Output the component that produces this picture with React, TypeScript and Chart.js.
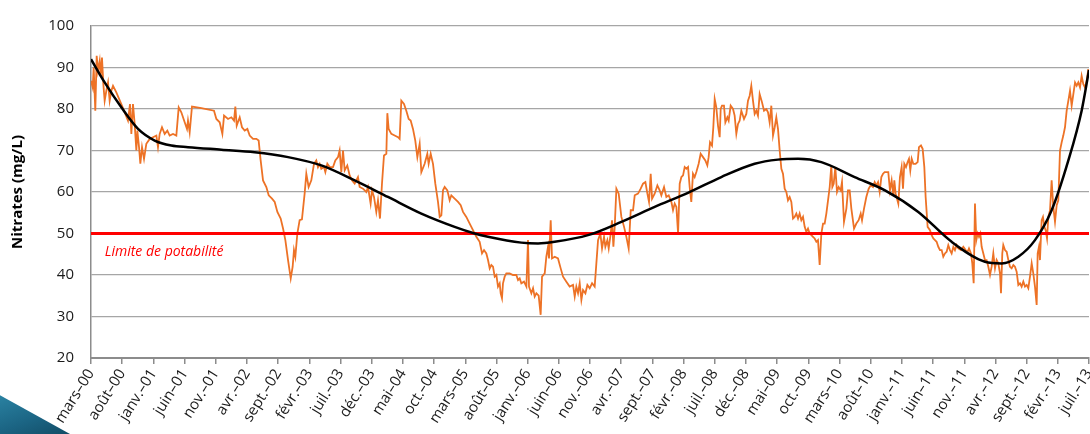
import React, { useEffect, useRef } from "react";
import { Chart, registerables } from "chart.js";

Chart.register(...registerables);

// Months counted from "mars-00" (March 2000 = 0)
const tickLabels = [
  "mars–00", "août–00", "janv.–01", "juin–01", "nov.–01", "avr.–02", "sept.–02", "févr.–03",
  "juil.–03", "déc.–03", "mai–04", "oct.–04", "mars–05", "août–05", "janv.–06", "juin–06",
  "nov.–06", "avr.–07", "sept.–07", "févr.–08", "juil.–08", "déc.–08", "mai–09", "oct.–09",
  "mars–10", "août–10", "janv.–11", "juin–11", "nov.–11", "avr.–12", "sept.–12", "févr.–13",
  "juil.–13",
];

const nitrateMonths = [
  0, 0.27, 0.43, 0.69, 0.91, 1.12, 1.39, 1.55, 1.76, 1.98, 2.19, 2.46, 2.73, 2.99, 3.26, 3.53, 4.06, 4.86, 5.4, 5.93,
  6.25, 6.47, 6.73, 7.0, 7.27, 7.43, 7.7, 7.91, 8.18, 8.5, 8.87, 9.41, 9.94, 10.48, 10.74, 11.01, 11.38, 11.81, 12.24, 12.61,
  13.15, 13.68, 14.06, 14.48, 15.02, 15.39, 15.55, 15.82, 16.19, 17.69, 19.72, 20.1, 20.63, 21.06, 21.33, 21.97, 22.5, 22.93, 23.14, 23.36,
  23.84, 24.21, 24.64, 25.07, 25.44, 25.98, 26.51, 26.88, 27.2, 27.58, 28.11, 28.49, 29.02, 29.45, 29.88, 30.41, 30.79, 31.16, 31.59, 32.02,
  32.33, 32.54, 32.76, 33.08, 33.45, 33.82, 34.25, 34.52, 34.89, 35.32, 35.75, 36.12, 36.39, 36.66, 36.92, 37.35, 37.57, 37.89, 38.26, 38.8,
  39.17, 39.6, 39.86, 40.13, 40.4, 40.67, 41.09, 41.47, 41.84, 42.27, 42.8, 43.07, 43.61, 44.14, 44.41, 44.83, 45.05, 45.37, 45.74, 46.01,
  46.33, 46.65, 46.97, 47.35, 47.51, 47.72, 48.15, 48.68, 49.22, 49.48, 49.75, 50.18, 50.55, 50.93, 51.25, 51.62, 51.99, 52.32, 52.69, 52.96,
  53.49, 53.92, 54.13, 54.46, 54.83, 55.2, 55.63, 55.9, 56.17, 56.43, 56.7, 57.13, 57.5, 57.77, 58.3, 58.84, 59.27, 59.64, 60.17, 60.71,
  61.24, 61.78, 62.31, 62.69, 63.01, 63.38, 63.65, 63.92, 64.18, 64.45, 64.72, 64.99, 65.25, 65.52, 65.68, 65.89, 66.05, 66.32, 66.59, 67.12,
  67.66, 68.19, 68.46, 68.73, 68.99, 69.42, 69.8, 70.06, 70.22, 70.6, 70.87, 71.13, 71.4, 71.77, 72.09, 72.31, 72.74, 73.0, 73.27, 73.43,
  73.7, 73.91, 74.34, 74.87, 75.3, 75.68, 76.21, 76.74, 77.28, 77.55, 77.81, 78.08, 78.35, 78.62, 78.88, 79.26, 79.58, 79.95, 80.33, 80.75,
  81.02, 81.29, 81.66, 81.93, 82.25, 82.46, 82.78, 83.0, 83.32, 83.53, 83.75, 83.96, 84.23, 84.6, 85.03, 85.46, 85.83, 86.2, 86.53, 86.9,
  87.17, 87.7, 88.13, 88.5, 88.88, 89.2, 89.46, 89.73, 89.95, 90.37, 90.8, 91.17, 91.44, 91.87, 92.24, 92.62, 93.05, 93.31, 93.58, 93.85,
  94.12, 94.38, 94.65, 94.92, 95.18, 95.45, 95.72, 95.98, 96.24, 96.51, 96.78, 97.05, 97.42, 97.74, 98.12, 98.49, 98.81, 99.02, 99.24, 99.56,
  99.77, 99.99, 100.25, 100.52, 100.79, 100.95, 101.16, 101.48, 101.7, 102.02, 102.23, 102.55, 102.93, 103.19, 103.46, 103.73, 103.99, 104.26, 104.69, 105.06,
  105.33, 105.6, 105.86, 106.13, 106.4, 106.67, 106.93, 107.2, 107.58, 107.9, 108.27, 108.54, 108.8, 109.07, 109.34, 109.61, 109.87, 110.14, 110.41, 110.68,
  110.94, 111.21, 111.48, 111.74, 112.01, 112.28, 112.55, 112.81, 113.08, 113.35, 113.61, 113.88, 114.15, 114.42, 114.68, 114.95, 115.22, 115.49, 115.75, 116.02,
  116.29, 116.55, 116.82, 117.09, 117.36, 117.62, 117.89, 118.16, 118.43, 118.69, 118.85, 119.07, 119.33, 119.6, 119.87, 120.19, 120.4, 120.72, 121.1, 121.36,
  121.63, 121.9, 122.33, 122.7, 123.07, 123.4, 123.61, 123.93, 124.3, 124.68, 125.0, 125.37, 125.64, 125.91, 126.18, 126.44, 126.71, 126.98, 127.24, 127.82,
  128.09, 128.36, 128.63, 128.79, 129.0, 129.43, 129.69, 129.96, 130.18, 130.39, 130.66, 130.92, 131.14, 131.35, 131.57, 131.83, 132.21, 132.53, 132.74, 133.06,
  133.33, 133.6, 133.81, 134.13, 134.51, 134.77, 135.04, 135.31, 135.57, 135.84, 136.11, 136.38, 136.64, 136.91, 137.18, 137.44, 137.71, 137.98, 138.25, 138.51,
  138.78, 139.05, 139.48, 139.85, 140.22, 140.54, 140.76, 141.08, 141.29, 141.51, 141.72, 141.93, 142.15, 142.36, 142.58, 142.79, 143.06, 143.32, 143.59, 143.86,
  144.13, 144.39, 144.66, 144.93, 145.19, 145.46, 145.73, 145.89, 146.1, 146.26, 146.53, 146.8, 147.07, 147.33, 147.6, 147.87, 148.13, 148.4, 148.67, 148.94,
  149.2, 149.47, 149.74, 150.01, 150.27, 150.54, 150.81, 151.07, 151.34, 151.61, 151.77, 151.98, 152.14, 152.41, 152.62, 152.84, 153.05, 153.27, 153.48, 153.75,
  154.01, 154.28, 154.55, 154.82, 155.08, 155.35, 155.62, 155.88, 156.15, 156.42, 156.69, 156.95, 157.22, 157.49, 157.76, 158.02, 158.29, 158.56, 158.82, 159.09,
  159.36, 159.63, 159.89,
];

const nitrateValues = [
  86.8, 85.2, 90, 79.6, 92.8, 89.2, 91.6, 88, 92.4, 86, 82, 84.4, 86.4, 82, 84.4, 85.6, 84, 81.2, 79.2, 77.2,
  81.2, 74, 81.2, 76.4, 70, 74.8, 70.8, 66.8, 70.8, 68, 71.6, 72.8, 73.2, 73.6, 70.8, 74, 75.6, 74, 74.8, 73.6,
  74, 73.6, 80.4, 79.2, 76.8, 75.2, 77.2, 74.4, 80.6, 80.2, 79.6, 77.6, 76.8, 74, 78.4, 77.6, 78, 77.2, 80.6, 76,
  78, 75.6, 74.8, 75.2, 73.6, 72.8, 72.8, 72.4, 67.6, 62.8, 61.2, 59.2, 58.4, 57.6, 55.2, 53.6, 51.2, 48.4, 43.6, 39.2,
  42, 46, 44.4, 50, 53.2, 53.4, 59.6, 64.4, 61.2, 62.8, 66.8, 67.6, 66, 66.8, 65.6, 66, 64.8, 66.8, 66, 66,
  67.6, 68.4, 70, 64.8, 70, 65.2, 66.4, 64, 62.8, 62, 63.6, 61.2, 60.8, 60, 61.2, 57.2, 60.4, 58.8, 55.2, 58,
  53.6, 62, 68.8, 69.2, 79, 75.2, 74, 73.6, 73.2, 72.8, 82, 81.2, 79.6, 77.6, 77.2, 75.2, 72.4, 68.4, 71.6, 64.8,
  66.8, 69.2, 66.8, 69.2, 66.8, 62, 57.6, 54, 54.4, 60.4, 61.2, 60.4, 58, 59.2, 58.4, 57.6, 56.8, 55.2, 54, 52.4,
  50.8, 49.2, 48, 45.2, 46, 45.2, 43.6, 41.6, 42.4, 42, 39.6, 40, 37.2, 38, 35.6, 34.4, 38, 39.6, 40.4, 40.4,
  40, 40, 38.8, 39.2, 38, 38.4, 37.2, 48.4, 37.2, 35.6, 36.8, 34.8, 35.6, 35, 30.4, 39.6, 40.4, 44.4, 46.8, 44,
  53.2, 44, 44.4, 44, 41.6, 39.6, 38.4, 37.2, 37.6, 34.8, 37.2, 35.6, 38, 34, 36.4, 35.6, 37.6, 36.8, 38, 37.2,
  42.8, 48.4, 50, 46.4, 49.2, 46.8, 48.4, 46.4, 50, 53.2, 46.8, 51.6, 60.8, 59.6, 54, 51.6, 49.2, 46.4, 55.6, 55.6,
  59.2, 59.6, 60.8, 62, 62.4, 59.6, 57.6, 64.4, 58.4, 59.6, 61.6, 60.4, 59.2, 61.2, 58.8, 59.2, 57.6, 55.6, 57.2, 56.4,
  50, 62, 63.6, 64, 66, 65.6, 66, 61.2, 57.6, 64.4, 63.6, 64.8, 66.8, 69.2, 68.4, 67.6, 66.4, 68.4, 72, 71.2,
  75.6, 82.4, 80.4, 76, 73.2, 80, 80.8, 80.8, 76.8, 78, 77.2, 80.8, 80, 78.4, 74, 76.4, 77.2, 79.6, 77.6, 78.8,
  82, 83.2, 85.6, 82, 78.8, 79.6, 78.4, 83.6, 81.6, 79.6, 80, 79.2, 76.8, 80.8, 73.6, 75.6, 78, 75.2, 70, 65.6,
  64.4, 60.8, 60, 58, 58.8, 57.6, 53.6, 54, 54.8, 53.6, 54.8, 53.2, 54, 51.6, 50.4, 51.2, 50, 49.6, 49.2, 48.8,
  48, 48.4, 42.4, 50, 52.4, 52.4, 54.8, 58, 61.2, 66.4, 61.2, 62, 66, 60, 61.2, 60.4, 62.4, 52.8, 56, 60.4,
  60.4, 56, 51.2, 52.4, 53.2, 54.8, 53.2, 56, 58.8, 60.8, 61.6, 61.2, 62.4, 61.6, 62.4, 60, 63.6, 64.4, 64.8, 64.8,
  60.4, 62.8, 59.2, 62.8, 59.6, 57.2, 63.6, 66, 60.8, 66.8, 66, 67.2, 68, 65.2, 68, 66.8, 66.8, 67.2, 70.8, 71.2,
  70.4, 66, 58.8, 51.6, 50.8, 49.6, 48.8, 48.4, 48, 46.8, 46, 46, 44.4, 45.2, 45.6, 47.2, 46, 45.2, 46.8, 46,
  47.2, 46.4, 46, 46.8, 46, 45.6, 46.4, 45.2, 42.8, 38, 57.2, 48.4, 50, 49.2, 50, 46.8, 45.2, 43.6, 43.6, 42,
  40, 42, 45.2, 41.6, 43.6, 42.8, 40.4, 35.6, 45.2, 47.2, 46, 45.6, 43.6, 42, 41.6, 42.4, 42, 40.8, 37.6, 38,
  37.2, 38.4, 37.2, 37.6, 36.8, 39.6, 42.8, 40.4, 37.2, 32.8, 45.2, 46.8, 43.6, 53.2, 54, 51.6, 50.8, 48.8, 54, 55.6,
  62.8, 56.4, 52.8, 56.8, 58, 70, 72, 73.6, 75.6, 79.6, 82, 84.4, 80.8, 83.6, 86.4, 85.6, 86.4, 85.2, 88, 86,
  85.2, 86.8, 89.6,
];

// Polynomial trend line
const trendMonths = [
  0, 2.19, 4.86, 7.54, 10.21, 12.88, 15.55, 20.9, 26.24, 31.59, 36.92, 42.27, 47.61, 52.96, 58.3, 61.51,
  63.65, 68.99, 71.67, 74.34, 79.68, 85.03, 90.37, 95.71, 101.05, 106.4, 110.14, 113.35, 117.09, 122.43,
  127.29, 132.63, 137.98, 143.32, 145.99, 148.67, 151.34, 154.01, 156.69, 158.82, 160,
];
const trendValues = [
  92, 86.4, 80.4, 75.2, 72.4, 71.2, 70.8, 70.2, 69.6, 68.4, 66.4, 62.8, 58.8, 54.8, 51.6, 50,
  49.2, 47.8, 47.6, 48, 49.6, 52.8, 56.4, 59.8, 63.6, 66.8, 67.8, 68, 67.2, 63.6,
  60.4, 55.2, 48, 43.2, 42.8, 44.4, 48.4, 55.6, 67.6, 79.6, 89.4,
];

const LIMIT = 50;
const limitLabel = "Limite de potabilité";
const yTitle = "Nitrates (mg/L)";

export default function App() {
  const ref = useRef<HTMLCanvasElement | null>(null);

  useEffect(() => {
    if (!ref.current) return;
    const nitrate = nitrateMonths.map((m, i) => ({ x: m, y: nitrateValues[i] }));
    const trend = trendMonths.map((m, i) => ({ x: m, y: trendValues[i] }));
    const limit = [
      { x: 0, y: LIMIT },
      { x: (tickLabels.length - 1) * 5, y: LIMIT },
    ];

    const labelPlugin = {
      id: "limitLabel",
      afterDatasetsDraw(chart: any) {
        const { ctx, scales } = chart;
        const x = scales.x.getPixelForValue(2.2);
        const y = scales.y.getPixelForValue(45.5);
        ctx.save();
        ctx.font = 'italic 14px "Open Sans"';
        ctx.fillStyle = "#ff0000";
        ctx.textAlign = "left";
        ctx.textBaseline = "middle";
        ctx.fillText(limitLabel, x, y);
        ctx.restore();
      },
    };

    const chart = new Chart(ref.current, {
      type: "line",
      data: {
        datasets: [
          {
            data: trend,
            borderColor: "#000000",
            borderWidth: 2.5,
            pointRadius: 0,
            cubicInterpolationMode: "monotone",
            order: 0,
          },
          {
            data: limit,
            borderColor: "#ff0000",
            borderWidth: 3,
            pointRadius: 0,
            order: 1,
          },
          {
            data: nitrate,
            borderColor: "#ED7226",
            borderWidth: 1.8,
            pointRadius: 0,
            tension: 0,
            order: 2,
          },
        ] as any,
      },
      options: {
        animation: false,
        responsive: false,
        devicePixelRatio: 1,
        layout: { padding: { top: 25, right: 24, left: 0, bottom: 0 } },
        plugins: { legend: { display: false }, tooltip: { enabled: false } },
        scales: {
          x: {
            type: "linear",
            min: 0,
            max: (tickLabels.length - 1) * 5,
            afterFit: (s: any) => {
              s.height = 142;
            },
            ticks: {
              stepSize: 5,
              autoSkip: false,
              maxRotation: 58,
              minRotation: 58,
              padding: 2,
              color: "#1a1a1a",
              font: { family: "Open Sans", size: 15 },
              callback: (v: any) => tickLabels[Math.round(Number(v) / 5)],
            },
            grid: {
              drawOnChartArea: false,
              drawTicks: true,
              tickLength: 6,
              color: "#8c8c8c",
              lineWidth: 1.5,
            },
            border: { color: "#8c8c8c", width: 2 },
          },
          y: {
            min: 20,
            max: 100,
            afterFit: (s: any) => {
              s.width = 91;
            },
            ticks: {
              stepSize: 10,
              padding: 17,
              color: "#1a1a1a",
              font: { family: "Open Sans", size: 15 },
            },
            grid: {
              drawTicks: false,
              color: "#a6a6a6",
              lineWidth: 1.3,
            },
            border: { color: "#8c8c8c", width: 1.5 },
            title: {
              display: true,
              text: yTitle,
              color: "#000000",
              font: { family: "Open Sans", size: 15, weight: "bold" },
              padding: { top: 9, bottom: 0 },
            },
          },
        },
      } as any,
      plugins: [labelPlugin],
    });
    return () => chart.destroy();
  }, []);

  return (
    <div
      style={{
        position: "fixed",
        left: 0,
        top: 0,
        width: 1090,
        height: 434,
        overflow: "hidden",
        background: "#ffffff",
      }}
    >
      <canvas ref={ref} width={1113} height={500} style={{ display: "block" }} />
      <div
        style={{
          position: "absolute",
          left: 0,
          top: 390,
          width: 70,
          height: 44,
          background: "linear-gradient(160deg, #2c86a6 0%, #1b6483 60%, #124d66 100%)",
          clipPath: "polygon(0 12%, 100% 100%, 0 100%)",
        }}
      />
    </div>
  );
}
